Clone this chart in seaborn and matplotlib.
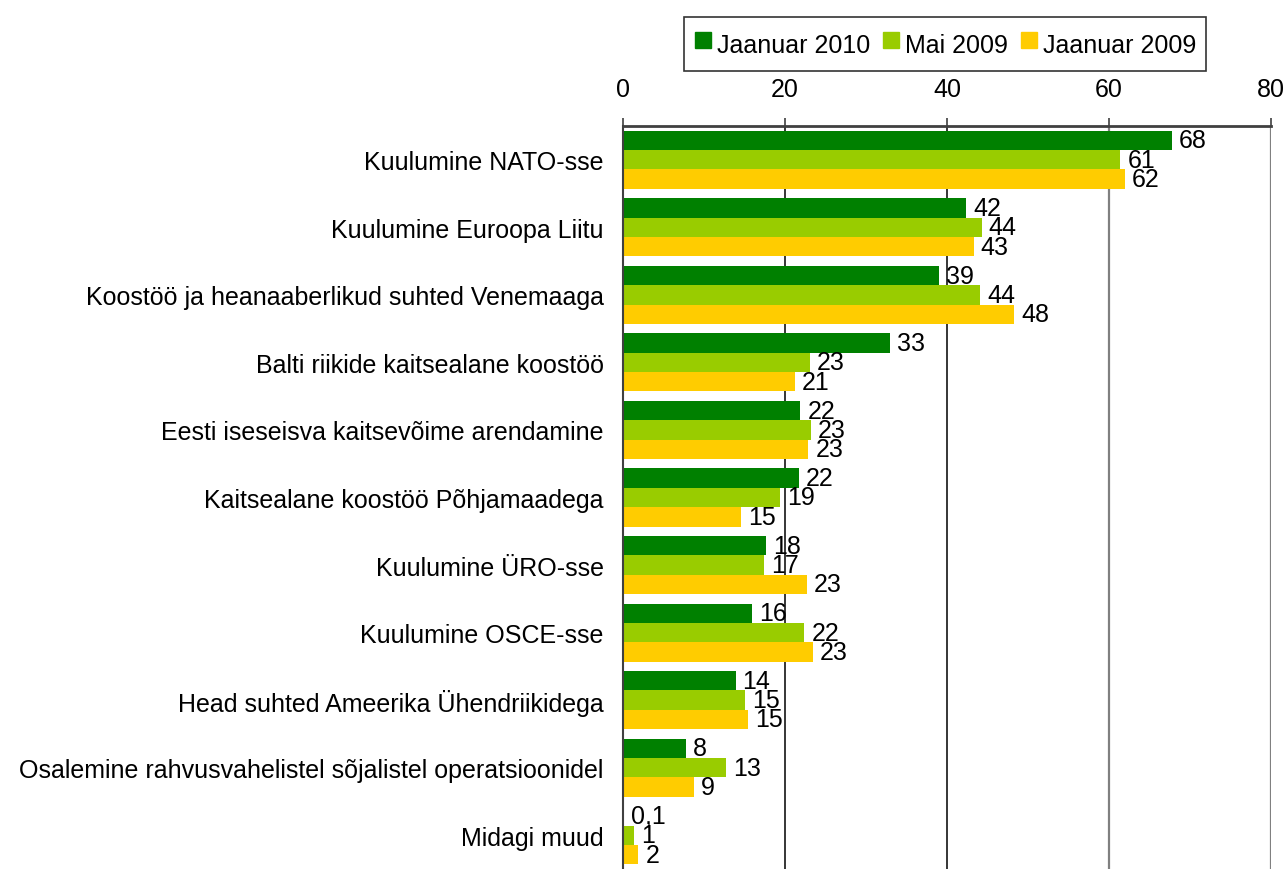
import matplotlib
matplotlib.use("Agg")
import matplotlib.pyplot as plt
import seaborn as sns
import pandas as pd
from matplotlib.lines import Line2D

categories = [
    "Kuulumine NATO-sse",
    "Kuulumine Euroopa Liitu",
    "Koostöö ja heanaaberlikud suhted Venemaaga",
    "Balti riikide kaitsealane koostöö",
    "Eesti iseseisva kaitsevõime arendamine",
    "Kaitsealane koostöö Põhjamaadega",
    "Kuulumine ÜRO-sse",
    "Kuulumine OSCE-sse",
    "Head suhted Ameerika Ühendriikidega",
    "Osalemine rahvusvahelistel sõjalistel operatsioonidel",
    "Midagi muud",
]
series_names = ["Jaanuar 2010", "Mai 2009", "Jaanuar 2009"]
jaan2010 = [67.8, 42.4, 39.0, 33.0, 21.9, 21.7, 17.7, 15.9, 13.9, 7.8, 0.1]
mai2009 = [61.4, 44.3, 44.1, 23.1, 23.2, 19.4, 17.4, 22.4, 15.1, 12.7, 1.4]
jaan2009 = [62.0, 43.3, 48.3, 21.2, 22.9, 14.6, 22.7, 23.4, 15.4, 8.8, 1.9]
x_ticks = [0, 20, 40, 60, 80]

colors = ["#008000", "#99cc00", "#ffcc00"]

rows = []
for name, vals in zip(series_names, [jaan2010, mai2009, jaan2009]):
    for c, v in zip(categories, vals):
        rows.append({"cat": c, "series": name, "value": v})
df = pd.DataFrame(rows)

sns.set_style("white")
plt.rcParams["font.family"] = ["Liberation Sans", "DejaVu Sans"]
plt.rcParams["text.color"] = "black"
plt.rcParams["xtick.labelcolor"] = "black"
plt.rcParams["ytick.labelcolor"] = "black"
FS = 18

fig = plt.figure(figsize=(12.86, 8.70), dpi=100)
ax = fig.add_axes([623 / 1286, 0.0, (1271 - 623) / 1286, 1 - 127 / 870])

sns.barplot(data=df, y="cat", x="value", hue="series", order=categories,
            hue_order=series_names, palette=colors, width=0.86,
            orient="h", ax=ax, legend=False, saturation=1, errorbar=None,
            linewidth=0, edgecolor="none")

ax.set_xlim(0, 80)
ax.set_ylim(len(categories) - 0.5, -0.5)
ax.set_xlabel("")
ax.set_ylabel("")

# x axis on top
ax.xaxis.set_ticks_position("top")
ax.xaxis.set_label_position("top")
ax.set_xticks(x_ticks)
ax.set_xticklabels([str(t) for t in x_ticks], fontsize=FS, color="black")
ax.tick_params(axis="x", direction="out", length=6, width=1.2, color="#404040", pad=12)

# gridlines
grid_colors = ["none", "#000000", "#000000", "#808080", "#808080"]
grid_widths = [1, 1.1, 1.1, 1.6, 1.6]
for t, gc, gw in zip(x_ticks, grid_colors, grid_widths):
    if gc != "none":
        ax.axvline(t, color=gc, lw=gw, zorder=0)

# y ticks: labels at centres, tick marks at boundaries
ax.set_yticks(range(len(categories)))
ax.set_yticklabels(categories, fontsize=FS, color="black")
ax.tick_params(axis="y", which="major", length=0, pad=14)
ax.set_yticks([i - 0.5 for i in range(len(categories) + 1)], minor=True)
ax.tick_params(axis="y", which="minor", direction="out", length=6, width=1.2, color="#404040")

for s in ["right", "bottom"]:
    ax.spines[s].set_visible(False)
ax.spines["top"].set_color("#404040")
ax.spines["top"].set_linewidth(2)
ax.spines["left"].set_color("#404040")
ax.spines["left"].set_linewidth(1.5)

# value labels
def fmt(v):
    if v < 0.5:
        return f"{v:.1f}".replace(".", ",")
    return f"{v:.0f}"

for cont in ax.containers:
    labels = [fmt(b.get_width()) for b in cont]
    ax.bar_label(cont, labels=labels, padding=5, fontsize=FS, color="black")

# legend
handles = [Line2D([], [], marker="s", linestyle="none", markersize=11.5,
                  markerfacecolor=c, markeredgecolor=c) for c in colors]
leg = fig.legend(handles, series_names, loc="center", bbox_to_anchor=(945 / 1286, 1 - 45 / 870),
                 ncol=3, fontsize=FS, frameon=True, fancybox=False, edgecolor="#000000",
                 handlelength=0.7, handleheight=1.7, handletextpad=0.2, columnspacing=0.5,
                 borderpad=0.4, borderaxespad=0)
leg.get_frame().set_linewidth(1.2)

fig.savefig("out.png", dpi=100)
